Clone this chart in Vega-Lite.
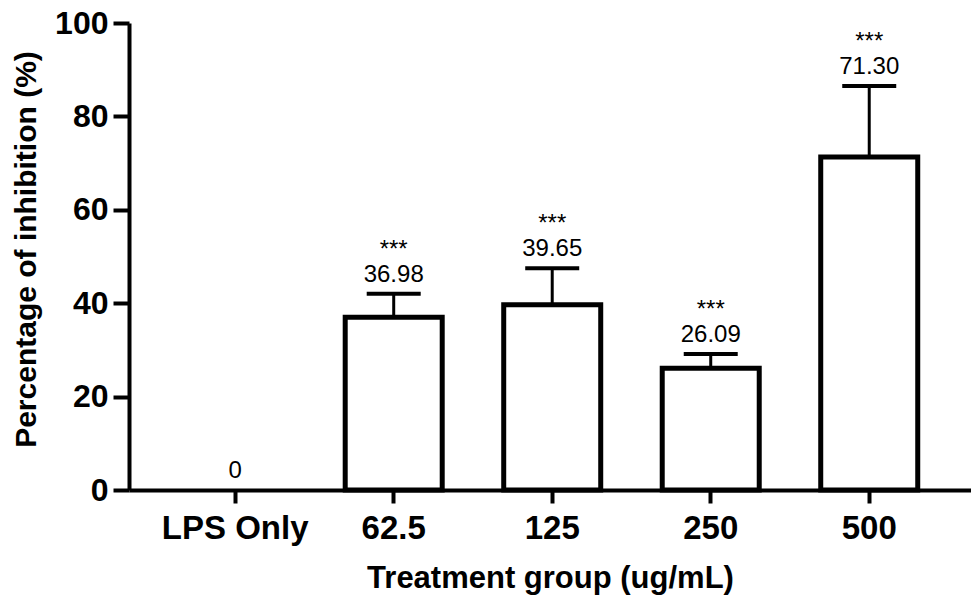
{
  "$schema": "https://vega.github.io/schema/vega-lite/v6.json",
  "autosize": "none",
  "width": 842,
  "height": 467,
  "padding": {"left": 129, "top": 23, "right": 0, "bottom": 107},
  "background": "white",
  "config": {
    "view": {"stroke": null},
    "font": "Liberation Sans"
  },
  "data": {
    "values": [
      {"group": "LPS Only", "value": 0, "upper": 0, "label": "0", "sig": ""},
      {"group": "62.5", "value": 36.98, "upper": 42.0, "label": "36.98", "sig": "***"},
      {"group": "125", "value": 39.65, "upper": 47.5, "label": "39.65", "sig": "***"},
      {"group": "250", "value": 26.09, "upper": 29.1, "label": "26.09", "sig": "***"},
      {"group": "500", "value": 71.30, "upper": 86.5, "label": "71.30", "sig": "***"}
    ]
  },
  "encoding": {
    "x": {
      "field": "group",
      "type": "nominal",
      "sort": ["LPS Only", "62.5", "125", "250", "500"],
      "scale": {"domain": ["LPS Only", "62.5", "125", "250", "500"], "paddingInner": 0.388, "paddingOuter": 0.35, "align": 0.52},
      "axis": {
        "title": "Treatment group (ug/mL)",
        "titleFont": "Liberation Sans",
        "titleFontSize": 31,
        "titleFontWeight": "bold",
        "titleColor": "black",
        "titleBaseline": "alphabetic",
        "titleY": 97,
        "labelAngle": 0,
        "labelFont": "Liberation Sans",
        "labelFontSize": 33,
        "labelFontWeight": "bold",
        "labelColor": "black",
        "labelBaseline": "alphabetic",
        "labelPadding": 35,
        "tickSize": 13,
        "tickWidth": 4,
        "tickColor": "black",
        "domainWidth": 4,
        "domainColor": "black",
        "grid": false
      }
    }
  },
  "layer": [
    {
      "transform": [{"filter": "datum.value > 0"}],
      "mark": {"type": "bar", "fill": "white", "stroke": "black", "strokeWidth": 5},
      "encoding": {
        "y": {
          "field": "value",
          "type": "quantitative",
          "scale": {"domain": [0, 100], "nice": false},
          "axis": {
            "title": "Percentage of inhibition (%)",
            "titleFont": "Liberation Sans",
            "titleFontSize": 30,
            "titleFontWeight": "bold",
            "titleColor": "black",
            "titleAngle": -90,
            "titleAlign": "center",
            "titleBaseline": "alphabetic",
            "titleX": -94,
            "titleY": 226,
            "values": [0, 20, 40, 60, 80, 100],
            "labelFont": "Liberation Sans",
            "labelFontSize": 32,
            "labelFontWeight": "bold",
            "labelColor": "black",
            "labelPadding": 5,
            "tickSize": 16,
            "tickWidth": 4,
            "tickColor": "black",
            "domainWidth": 4,
            "domainColor": "black",
            "grid": false
          }
        }
      }
    },
    {
      "transform": [{"filter": "datum.upper > datum.value"}],
      "mark": {"type": "rule", "color": "black", "strokeWidth": 3},
      "encoding": {
        "y": {"field": "value", "type": "quantitative"},
        "y2": {"field": "upper"}
      }
    },
    {
      "transform": [{"filter": "datum.upper > datum.value"}],
      "mark": {"type": "tick", "orient": "horizontal", "color": "black", "opacity": 1, "size": 54, "thickness": 4},
      "encoding": {
        "y": {"field": "upper", "type": "quantitative"}
      }
    },
    {
      "mark": {"type": "text", "font": "Liberation Sans", "fontSize": 24, "color": "black", "baseline": "alphabetic", "dy": -12},
      "encoding": {
        "y": {"field": "upper", "type": "quantitative"},
        "text": {"field": "label"}
      }
    },
    {
      "mark": {"type": "text", "font": "Liberation Sans", "fontSize": 24, "color": "black", "baseline": "alphabetic", "dy": -37},
      "encoding": {
        "y": {"field": "upper", "type": "quantitative"},
        "text": {"field": "sig"}
      }
    }
  ]
}
